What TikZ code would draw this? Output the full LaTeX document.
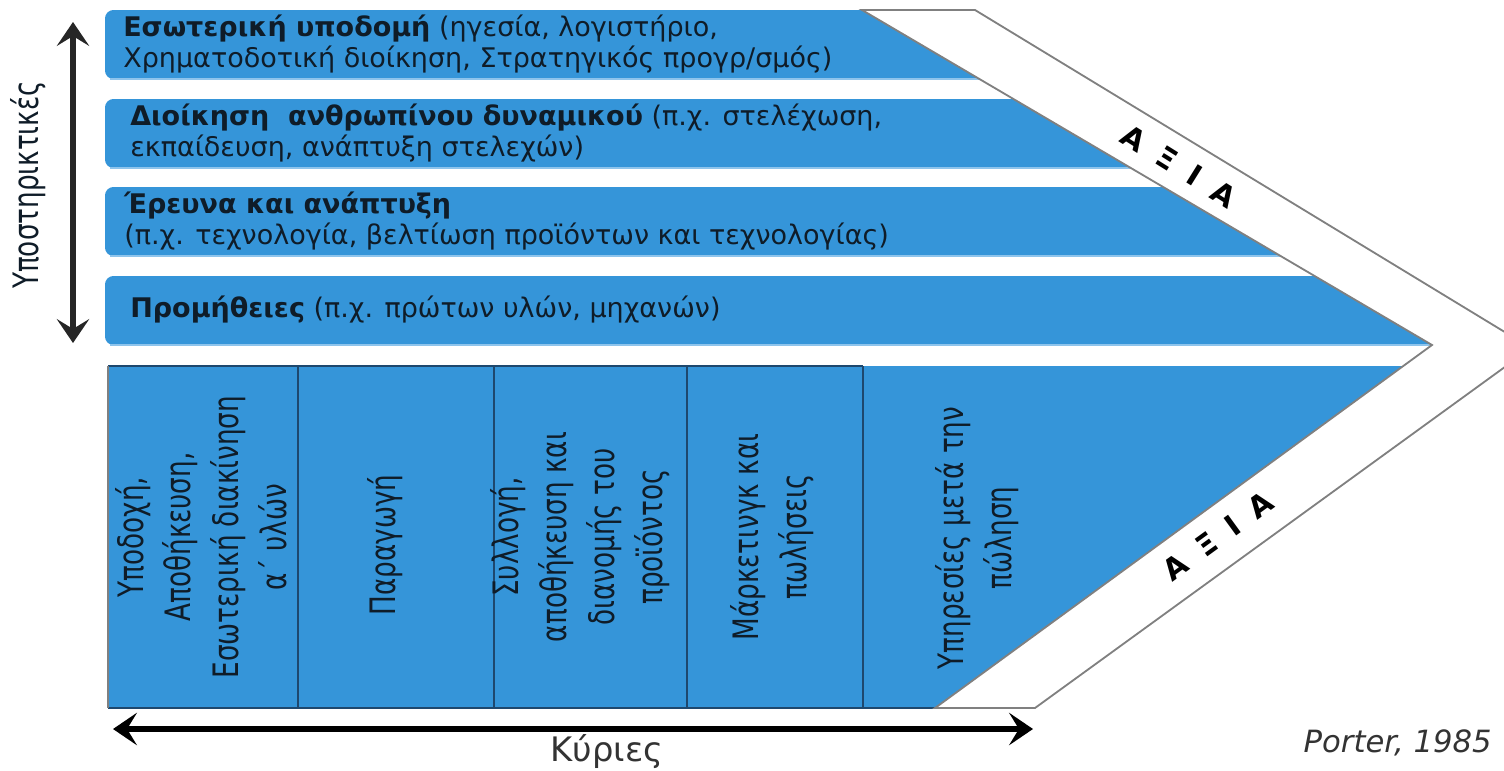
\documentclass[tikz,border=0pt]{standalone}
\usepackage{fontspec}
\setmainfont{DejaVu Sans}
\newfontfamily\narrowfont[FakeStretch=0.75]{DejaVu Sans}
\usetikzlibrary{arrows.meta}

\definecolor{barblue}{RGB}{53,149,217}
\definecolor{barline}{RGB}{142,196,236}
\definecolor{colborder}{RGB}{30,72,110}
\definecolor{bandgray}{RGB}{128,128,128}
\definecolor{txtdark}{RGB}{15,28,40}

\tikzset{
  bartext/.style={anchor=west, align=left, inner sep=0pt, text=txtdark,
    font=\fontsize{19.2}{22}\selectfont},
  coltext/.style={rotate=90, align=center, inner sep=0pt, text=txtdark,
    font=\narrowfont\fontsize{24.9}{34}\selectfont},
  valuetext/.style={inner sep=0pt, text=black, font=\bfseries\fontsize{21}{24}\selectfont},
  dblarrow/.style={{Stealth[length=17pt,width=23pt,inset=7pt]}-{Stealth[length=17pt,width=23pt,inset=7pt]},
    line width=3.9pt},
}

\begin{document}
\begin{tikzpicture}[x=0.025cm, y=-0.025cm]
\useasboundingbox (0,0) rectangle (1504,770);

% support activities
\foreach \bartop in {10,99,187,276}{
  \pgfmathsetmacro\barbot{\bartop+69}
  \fill[barblue, rounded corners=6pt] (105,\bartop) rectangle (850,\barbot);
  \fill[barblue] (830,\bartop) -- ({862+1.7*(\bartop-10)},\bartop)
    -- ({862+1.7*(\barbot-10)},\barbot) -- (830,\barbot) -- cycle;
  \draw[barline, line width=1.4pt] (110,\barbot) -- ({862+1.7*(\barbot-10)},\barbot);
}

% primary activities
\fill[barblue] (108,366) -- (1403,366) -- (935,708) -- (108,708) -- cycle;
\draw[colborder, line width=1.5pt] (108,366) -- (863,366);
\draw[colborder, line width=1.5pt] (108,708) -- (935,708);
\foreach \x in {298,494,687,863}
  \draw[colborder, line width=1.5pt] (\x,366) -- (\x,708);
\draw[bandgray, line width=1.5pt] (108,366) -- (108,708);

% margin band
\draw[bandgray, line width=1.3pt] (862,10) -- (975,10) -- (1531,348) -- (1035,708)
  -- (935,708) -- (1432,345) -- cycle;

% support labels
\node[bartext] (infra) at (123,44) {\textbf{Εσωτερική υποδομή} (ηγεσία, λογιστήριο,\\Χρηματοδοτική διοίκηση, Στρατηγικός προγρ/σμός)};
\node[bartext] (hrm) at (130,133) {\textbf{Διοίκηση\ \ ανθρωπίνου δυναμικού} (π.χ. στελέχωση,\\εκπαίδευση, ανάπτυξη στελεχών)};
\node[bartext] (rnd) at (124,221) {\textbf{Έρευνα και ανάπτυξη}\\(π.χ. τεχνολογία, βελτίωση προϊόντων και τεχνολογίας)};
\node[bartext] (procure) at (130,310) {\textbf{Προμήθειες} (π.χ. πρώτων υλών, μηχανών)};

% primary labels
\node[coltext] (inbound) at (201,537) {Υποδοχή,\\Αποθήκευση,\\Εσωτερική διακίνηση\\α΄ υλών};
\node[coltext] (production) at (385,545) {Παραγωγή};
\node[coltext] (outbound) at (580,537) {Συλλογή,\\αποθήκευση και\\διανομής του\\προϊόντος};
\node[coltext] (marketing) at (772,537) {Μάρκετινγκ και\\πωλήσεις};
\node[coltext] (service) at (977,538) {Υπηρεσίες μετά την\\πώληση};

% margin labels
\node[valuetext, rotate=-32] (valuetop) at (1179,166) {Α\hspace{0.6em}Ξ\hspace{0.6em}Ι\hspace{0.6em}Α};
\node[valuetext, rotate=36] (valuebot) at (1218,536) {Α\hspace{0.6em}Ξ\hspace{0.6em}Ι\hspace{0.6em}Α};

% axes
\coordinate (suptop) at (73,22);
\coordinate (supbot) at (73,343);
\draw[dblarrow, black!85] (suptop) -- (supbot);
\node[coltext] (support) at (28,185) {Υποστηρικτικές};

\coordinate (primleft) at (113,729);
\coordinate (primright) at (1033,729);
\draw[dblarrow] (primleft) -- (primright);
\node[anchor=base, inner sep=0pt, text=black!80, font=\fontsize{24}{28}\selectfont] (primary) at (607,761) {Κύριες};

\node[anchor=east, inner sep=0pt, text=black!80, font=\itshape\fontsize{21.8}{26}\selectfont] (source) at (1492,743) {Porter, 1985};
\end{tikzpicture}
\end{document}
